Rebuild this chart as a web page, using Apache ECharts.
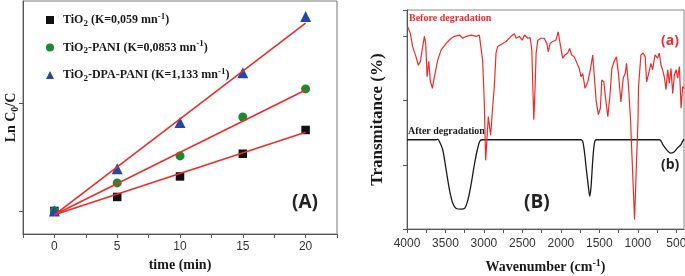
<!DOCTYPE html>
<html>
<head>
<meta charset="utf-8">
<script src="https://cdn.jsdelivr.net/npm/echarts@6/dist/echarts.min.js"></script>
<style>html,body{margin:0;padding:0;background:#fff}#c{width:685px;height:276px}</style>
</head>
<body>
<div id="c"></div>
<script>
// ---- Panel A data ----
const timeMin = [0, 5, 10, 15, 20];
const lnTiO2 = [0, 0.13, 0.32, 0.53, 0.75];
const lnTiO2Pani = [0, 0.26, 0.51, 0.87, 1.13];
const lnTiO2DpaPani = [0, 0.39, 0.82, 1.28, 1.80];
const fitTime = [0, 20];
const fitTiO2 = [-0.035, 0.73];
const fitTiO2Pani = [-0.035, 1.12];
const fitTiO2DpaPani = [-0.035, 1.74];
const seriesNames = ['TiO2 (K=0,059 mn-1)', 'TiO2-PANI (K=0,0853 mn-1)', 'TiO2-DPA-PANI (K=1,133 mn-1)'];
const timeTickLabels = [0, 5, 10, 15, 20];

// ---- Panel B data ----
const wnBefore = [3992,3957,3927,3883,3853,3826,3796,3774,3757,3739,3718,3696,3670,3644,3601,3556,3491,3426,3383,3317,3274,3230,3165,3100,3060,3039,3017,2995,2978,2943,2913,2880,2865,2843,2822,2756,2713,2648,2604,2582,2539,2504,2473,2430,2400,2378,2365,2352,2335,2322,2300,2257,2217,2182,2165,2139,2108,2065,2035,2008,1977,1947,1912,1886,1860,1826,1791,1761,1738,1716,1686,1651,1617,1586,1565,1543,1513,1487,1468,1442,1421,1390,1360,1338,1308,1278,1252,1220,1190,1164,1147,1121,1095,1043,998,991,960,930,904,886,860,830,808,777,743,721,699,678,656,634,612,591,569,547,525,503,482,460,438,417,400];
const trBefore = [3.15,3.05,2.84,2.68,2.55,2.61,2.84,3.00,2.89,2.37,2.61,2.30,2.19,2.37,2.63,2.79,2.89,2.97,3.00,3.02,2.97,3.00,3.02,3.00,3.02,3.00,2.63,1.96,1.07,1.75,1.46,2.00,2.22,2.74,2.84,2.89,2.92,3.00,3.04,2.97,3.00,2.94,3.02,2.97,2.98,2.79,2.22,1.70,2.22,2.74,2.94,2.97,2.97,2.89,2.76,2.89,2.92,2.94,3.07,2.87,2.66,2.71,2.74,2.81,2.71,2.68,2.58,2.50,2.37,2.42,2.19,2.29,2.48,2.71,2.37,2.01,1.78,1.88,2.32,2.29,2.06,1.75,2.11,2.50,2.61,2.68,2.42,1.98,2.35,2.42,2.58,2.22,1.70,0.15,1.70,2.22,2.71,2.74,2.68,2.29,2.42,2.58,2.48,2.71,2.66,2.74,2.55,2.48,2.37,2.17,2.48,2.27,2.50,2.11,2.40,2.48,2.35,2.53,1.88,2.22,2.19];
const wnAfter = [4000,3620,3600,3578,3535,3491,3448,3405,3361,3296,3252,3209,3165,3122,3087,3057,3026,1737,1703,1673,1643,1625,1608,1586,1565,1543,717,673,616,573,530,486,443,412,400];
const trAfter = [1.39,1.39,1.40,1.36,1.23,0.92,0.61,0.40,0.32,0.31,0.32,0.45,0.71,1.02,1.23,1.36,1.39,1.39,1.28,0.97,0.66,0.51,0.66,1.07,1.33,1.39,1.39,1.31,1.22,1.18,1.20,1.26,1.31,1.38,1.40];
const wnTicks = [500,750,1000,1250,1500,1750,2000,2250,2500,2750,3000,3250,3500,3750,4000];
const wnTickLabels = [500,1000,1500,2000,2500,3000,3500,4000];

const zip = (a, b) => a.map((v, i) => [v, b[i]]);
const SERIF = 'Liberation Serif';
const richT = {
  t: {fontFamily: SERIF, fontWeight: 'bold', fontSize: 12, lineHeight: 16, color: '#1a1a1a'},
  s: {fontFamily: SERIF, fontWeight: 'bold', fontSize: 9, lineHeight: 9, verticalAlign: 'bottom', color: '#1a1a1a'},
  p: {fontFamily: SERIF, fontWeight: 'bold', fontSize: 9, lineHeight: 9, verticalAlign: 'top', color: '#1a1a1a'}
};
const legendRich = {
  [seriesNames[0]]: '{t|TiO}{s|2}{t| (K=0,059 mn}{p|-1}{t|)}',
  [seriesNames[1]]: '{t|TiO}{s|2}{t|-PANI (K=0,0853 mn}{p|-1}{t|)}',
  [seriesNames[2]]: '{t|TiO}{s|2}{t|-DPA-PANI (K=1,133 mn}{p|-1}{t|)}'
};
const AX = '#555';
const red = '#ee2b2b';

const chart = echarts.init(document.getElementById('c'), null, {renderer: 'canvas'});
chart.setOption({
  animation: false,
  grid: [
    {left: 23, top: 1, width: 314, height: 233, show: true, borderColor: '#777', borderWidth: 1,
     containLabel: false, outerBoundsMode: 'none'},
    {left: 407, top: 10, width: 277, height: 219, show: true, borderColor: '#888', borderWidth: 1,
     containLabel: false, outerBoundsMode: 'none'}
  ],
  legend: {
    left: 41, top: 7, orient: 'vertical', itemGap: 11.5, itemWidth: 8, itemHeight: 8,
    data: seriesNames,
    formatter: n => legendRich[n],
    textStyle: {rich: richT, padding: [0, 0, 0, 4]}
  },
  xAxis: [
    {gridIndex: 0, type: 'value', min: -2.5, max: 22.5, interval: 2.5,
     axisLine: {onZero: false, lineStyle: {color: AX}}, axisTick: {length: 4, lineStyle: {color: AX}},
     axisLabel: {margin: 7, color: '#333', fontFamily: 'Liberation Sans', fontSize: 12,
       formatter: v => timeTickLabels.includes(v) ? String(v) : ''},
     splitLine: {show: false},
     name: 'time (min)', nameLocation: 'middle', nameGap: 23,
     nameTextStyle: {fontFamily: SERIF, fontWeight: 'bold', fontSize: 14, color: '#1a1a1a'}},
    {gridIndex: 1, type: 'value', inverse: true, min: 400, max: 4000,
     axisLine: {onZero: false, lineStyle: {color: AX}},
     axisTick: {length: 4, customValues: wnTicks, lineStyle: {color: AX}},
     axisLabel: {margin: 9, customValues: wnTickLabels, color: '#333', fontFamily: 'Liberation Sans', fontSize: 12,
       formatter: v => String(v)},
     splitLine: {show: false},
     name: '{t|Wavenumber (cm}{p|-1}{t|)}', nameLocation: 'middle', nameGap: 29,
     nameTextStyle: {rich: {
       t: {fontFamily: SERIF, fontWeight: 'bold', fontSize: 14, lineHeight: 18, color: '#1a1a1a'},
       p: {fontFamily: SERIF, fontWeight: 'bold', fontSize: 10, lineHeight: 10, verticalAlign: 'top', color: '#1a1a1a'}}}}
  ],
  yAxis: [
    {gridIndex: 0, type: 'value', min: -0.213, max: 1.944,
     axisLine: {show: true, onZero: false, lineStyle: {color: AX}},
     axisTick: {show: true, length: 4, customValues: [0, 1], lineStyle: {color: AX}},
     axisLabel: {show: false}, splitLine: {show: false},
     name: '{t|Ln C}{s|0}{t|/C}', nameLocation: 'middle', nameGap: 3,
     nameTextStyle: {rich: {
       t: {fontFamily: SERIF, fontWeight: 'bold', fontSize: 14, lineHeight: 18, color: '#1a1a1a'},
       s: {fontFamily: SERIF, fontWeight: 'bold', fontSize: 10, lineHeight: 10, verticalAlign: 'bottom', color: '#1a1a1a'}}}},
    {gridIndex: 1, type: 'value', min: 0, max: 3.41, interval: 1,
     axisLine: {show: true, onZero: false, lineStyle: {color: AX}},
     axisTick: {show: true, length: 4, lineStyle: {color: AX}},
     axisLabel: {show: false}, splitLine: {show: false},
     name: 'Transmitance (%)', nameLocation: 'middle', nameGap: 21,
     nameTextStyle: {fontFamily: SERIF, fontWeight: 'bold', fontSize: 17, color: '#1a1a1a'}}
  ],
  series: [
    {name: seriesNames[0], type: 'scatter', xAxisIndex: 0, yAxisIndex: 0, symbol: 'rect', symbolSize: 8.5,
     itemStyle: {color: '#111', opacity: 1}, data: zip(timeMin, lnTiO2)},
    {name: seriesNames[1], type: 'scatter', xAxisIndex: 0, yAxisIndex: 0, symbol: 'circle', symbolSize: 9,
     itemStyle: {color: '#1a8a2e', opacity: 1}, data: zip(timeMin, lnTiO2Pani)},
    {name: seriesNames[2], type: 'scatter', xAxisIndex: 0, yAxisIndex: 0, symbol: 'triangle', symbolSize: 11,
     itemStyle: {color: '#2448a8', opacity: 1}, data: zip(timeMin, lnTiO2DpaPani)},
    {type: 'line', xAxisIndex: 0, yAxisIndex: 0, showSymbol: false, silent: true, z: 3,
     lineStyle: {color: red, width: 1.6}, data: zip(fitTime, fitTiO2)},
    {type: 'line', xAxisIndex: 0, yAxisIndex: 0, showSymbol: false, silent: true, z: 3,
     lineStyle: {color: red, width: 1.6}, data: zip(fitTime, fitTiO2Pani)},
    {type: 'line', xAxisIndex: 0, yAxisIndex: 0, showSymbol: false, silent: true, z: 3,
     lineStyle: {color: red, width: 1.6}, data: zip(fitTime, fitTiO2DpaPani)},
    {type: 'line', xAxisIndex: 1, yAxisIndex: 1, showSymbol: false, silent: true, smooth: 0.3, z: 2,
     lineStyle: {color: '#1a1a1a', width: 1.3}, data: zip(wnAfter, trAfter)},
    {type: 'line', xAxisIndex: 1, yAxisIndex: 1, showSymbol: false, silent: true, z: 3,
     lineStyle: {color: red, width: 1.2}, data: zip(wnBefore, trBefore)}
  ],
  graphic: [
    {type: 'text', left: 292, top: 193, style: {text: '(A)', fontFamily: 'Open Sans', fontWeight: 'bold', fontSize: 19, fill: '#222'}},
    {type: 'text', left: 524, top: 193, style: {text: '(B)', fontFamily: 'Open Sans', fontWeight: 'bold', fontSize: 19, fill: '#222'}},
    {type: 'text', left: 661, top: 34, style: {text: '(a)', fontFamily: 'Open Sans', fontWeight: 'bold', fontSize: 14, fill: red}},
    {type: 'text', left: 661, top: 158, style: {text: '(b)', fontFamily: 'Open Sans', fontWeight: 'bold', fontSize: 14, fill: '#222'}},
    {type: 'text', left: 409, top: 13, style: {text: 'Before degradation', fontFamily: SERIF, fontWeight: 'bold', fontSize: 10, fill: red}},
    {type: 'text', left: 408, top: 126, style: {text: 'After degradation', fontFamily: SERIF, fontWeight: 'bold', fontSize: 10, fill: '#1a1a1a'}}
  ]
});
</script>
</body>
</html>
